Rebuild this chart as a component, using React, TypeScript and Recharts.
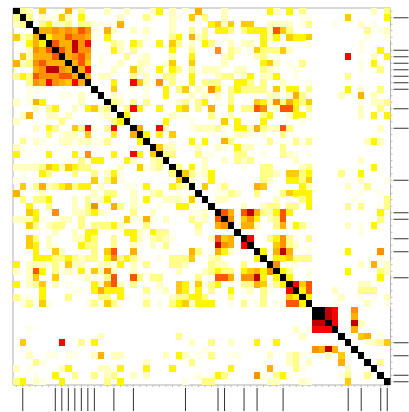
import { ScatterChart, Scatter, XAxis, YAxis, ReferenceArea } from "recharts"

// upper triangle of the symmetric matrix, one string per row, "col:level"
const rowValues = [
  "1:3 2:2 4:5 8:6 10:3 14:2 17:2 21:2 22:4 24:2 26:1 28:6 32:2 39:4 40:2 42:4 44:3 55:2 57:3",
  "2:3 4:2 5:1 6:1 7:5 8:2 10:4 16:2 20:3 21:1 24:2 25:1 27:5 29:3 32:2 44:1 45:1 51:5 57:4",
  "4:3 5:4 6:2 7:2 8:3 10:3 11:3 12:1 13:1 14:1 16:6 24:2 30:4 31:5 32:2 33:5 35:5 36:5 39:2 40:2 41:2 42:2 44:1 45:3 49:1 53:2 55:1",
  "4:6 5:6 6:7 7:6 8:7 9:6 10:8 11:7 12:1 14:6 15:2 18:2 20:2 24:2 27:3 29:3 31:4 32:4 33:3 35:3 36:4 37:4 38:4 39:2 40:8 41:5 42:3 54:3 56:1 57:2",
  "5:4 6:6 7:6 8:8 9:7 10:7 11:6 12:1 14:4 20:1 24:3 25:4 27:6 28:2 29:3 32:1 38:4 39:2 40:4 42:5 43:4 44:4 45:5 54:1 57:1",
  "6:8 7:6 8:6 9:10 10:7 11:9 15:3 16:2 18:4 19:3 22:4 24:5 25:3 27:2 29:4 30:3 33:2 35:2 36:2 38:4 39:1 45:1 53:1",
  "7:8 8:6 9:10 10:7 11:7 15:4 16:2 18:3 24:4 27:3 31:7 33:3 34:2 36:1 37:5 38:3 39:3 40:3 41:5 42:2 53:1 56:4",
  "8:6 9:7 10:8 11:6 13:1 17:3 19:1 20:2 24:2 27:4 32:2 33:3 37:2 38:3 39:1 40:1 51:9 55:2 57:4",
  "9:6 10:8 11:5 13:1 16:2 19:2 20:2 23:1 24:5 27:5 32:2 38:4 39:5 40:2 42:1 44:3 53:1 55:4",
  "10:6 11:9 15:2 18:5 19:2 20:1 22:4 24:4 25:3 27:3 29:2 30:2 31:2 34:2 35:2 38:3 39:2 40:1 43:1 53:1 56:3",
  "11:6 13:2 14:2 18:3 20:2 23:3 24:3 27:4 31:2 32:3 33:3 35:2 36:4 38:2 39:2 40:4 41:1 43:1 51:3",
  "15:4 18:9 19:5 20:2 22:7 24:3 27:4 29:3 30:3 31:3 34:4 35:4 36:3 38:3 41:2 45:1",
  "15:5 18:1 20:1 23:4 25:3 26:5 28:2 29:1 30:7 31:4 33:3 34:4 35:3 36:3 37:3 38:3 40:5 41:1 42:4 43:4 45:3 51:4 53:2 56:3",
  "15:2 16:1 20:1 23:4 27:2 29:2 31:2 33:3 39:2 40:2 42:2 43:6 44:3 45:1 50:2 53:6 55:2",
  "15:3 16:2 18:3 20:3 25:2 26:3 28:3 29:4 31:1 33:3 37:5 38:4 39:2 40:7 41:3 42:6 43:4 44:3 45:5 55:2 56:2 57:3",
  "17:3 18:9 19:4 22:4 25:4 26:5 28:3 30:6 33:4 35:3 36:3 37:8 38:7 39:1 40:2 41:8 42:8 43:4 45:3 53:2 56:3",
  "17:4 24:2 25:1 26:1 30:3 33:2 38:3 39:4 42:2 43:4 44:4 45:1 53:2 55:4 57:4",
  "23:4 27:1 32:5 34:4 38:4 44:1",
  "19:6 22:9 23:2 27:1 28:2 29:2 30:2 31:3 32:1 34:4 35:4 36:2 37:6 38:3 39:2 40:2 41:8 42:3 56:2",
  "20:4 22:4 24:5 30:1 32:1 34:2 35:2 36:1 38:1 41:3",
  "24:1 27:4 29:4 32:6 33:3 39:3 43:3 44:1 45:3 54:2 55:4 56:2",
  "22:5 23:2 24:2 28:2 31:2 32:1 34:4 35:2 36:2 41:3",
  "23:3 24:3 28:3 30:1 34:3 35:3 38:1 41:3 42:2 43:1 45:1",
  "29:2 32:2 34:3 35:2 36:3 43:2 53:2",
  "25:3 27:4 29:2 35:1 38:3 39:3 44:2 45:3 55:4",
  "26:5 27:3 28:1 29:2 30:4 38:3 39:3 40:2 42:5 43:5 44:3 45:4 50:3 53:4",
  "27:2 29:1 30:4 38:3 39:2 42:4 43:4 44:3 45:5 53:2 57:1",
  "29:5 31:1 32:3 37:6 38:5 44:4 45:2 51:2 54:3",
  "31:1 32:1 33:3 34:2 37:3 41:3 42:5 43:4 44:4 45:4 53:1 56:1",
  "31:2 32:2 40:2 42:1 44:3 45:4 52:1 57:3",
  "35:2 38:2 39:3 40:3 42:3 43:3 45:4 51:3 53:3 56:1 57:3",
  "32:8 33:6 35:8 36:10 37:6 38:3 39:2 40:4 41:8 42:4 56:4",
  "33:7 35:5 36:7 37:4 39:2 40:3 41:8 56:3",
  "35:6 36:6 37:2 40:3 41:6 42:1 43:4 44:3 45:1 51:2 53:1 55:4",
  "53:1",
  "36:9 39:3 40:4 41:7 42:3 43:1 45:3",
  "40:5 41:7 42:3 43:2",
  "38:4 40:6 41:10 42:6 45:1 51:4 56:7",
  "40:4 41:4 42:5 43:3 44:3 45:3 56:1",
  "40:7 42:1 43:1 53:2 55:6 57:2",
  "41:4 42:3 45:1 51:4 56:3 57:2",
  "42:4 45:1 56:4",
  "43:9 44:5 45:8 53:2 54:2 56:1",
  "44:4 45:8 49:2 53:3 54:3 55:3",
  "45:4 50:2 53:1 55:1 57:2",
  "49:1 54:2 57:1",
  "47:11 48:10 49:9 52:7",
  "48:10 49:9 52:6",
  "49:9 52:10 53:2",
  "52:6",
  "53:5 54:6 56:1",
  "54:1 55:2 56:3 57:5",
  "",
  "",
  "56:3",
  "",
  "",
  "",
]

const levelColors = [
  "#FFFFFF", "#FFFFE6", "#FFFFC0", "#FFFF88", "#FFF500", "#FFCC00",
  "#FFB000", "#FF9000", "#FF5500", "#FF0000", "#C00000", "#000000",
]

const majorTicks = [1, 6, 7, 8, 9, 10, 11, 12, 15, 18, 26, 31, 32, 35, 37, 41, 51, 53, 56, 57]

const cellCount = rowValues.length
const diagonalLevel = 11
const allTicks = rowValues.map((_, i) => i)

const cells: { col: number; row: number; level: number }[] = []
rowValues.forEach((line, row) => {
  cells.push({ col: row, row, level: diagonalLevel })
  line.split(" ").filter(Boolean).forEach((item) => {
    const [col, level] = item.split(":").map(Number)
    cells.push({ col, row, level })
    cells.push({ col: row, row: col, level })
  })
})

const chartWidth = 409
const chartHeight = 412
const margin = { top: 8, right: 0, bottom: 0, left: 13 }
const axisHeight = 27
const axisWidth = 18.5
const cellSize = (chartWidth - margin.left - axisWidth) / cellCount

const CellShape = (props: any) => {
  const { cx, cy, payload } = props
  return (
    <rect
      x={cx - cellSize / 2}
      y={cy - cellSize / 2}
      width={cellSize}
      height={cellSize}
      fill={levelColors[payload.level]}
      shapeRendering="crispEdges"
    />
  )
}

const BottomTick = (props: any) => {
  const { x, y, payload } = props
  const major = majorTicks.includes(payload.value)
  return (
    <g>
      <line x1={x} x2={x} y1={y} y2={y + 2} stroke="#bbb" />
      {major && <line x1={x} x2={x} y1={y + 3} y2={y + 26} stroke="#333" />}
    </g>
  )
}

const RightTick = (props: any) => {
  const { x, y, payload } = props
  const major = majorTicks.includes(payload.value)
  return (
    <g>
      <line x1={x} x2={x + 2} y1={y} y2={y} stroke="#bbb" />
      {major && <line x1={x + 3} x2={x + 18} y1={y} y2={y} stroke="#333" />}
    </g>
  )
}

export default function App() {
  return (
    <div style={{ position: "absolute", left: 0, top: 0, width: chartWidth, height: chartHeight, filter: "blur(0.35px)" }}>
      <ScatterChart width={chartWidth} height={chartHeight} margin={margin}>
        <XAxis
          type="number"
          dataKey="col"
          domain={[-0.5, cellCount - 0.5]}
          ticks={allTicks}
          interval={0}
          height={axisHeight}
          tick={<BottomTick />}
          tickLine={false}
          tickSize={0}
          tickMargin={0}
          axisLine={false}
          allowDataOverflow
        />
        <YAxis
          type="number"
          dataKey="row"
          orientation="right"
          reversed
          domain={[-0.5, cellCount - 0.5]}
          ticks={allTicks}
          interval={0}
          width={axisWidth}
          tick={<RightTick />}
          tickLine={false}
          tickSize={0}
          tickMargin={0}
          axisLine={false}
          allowDataOverflow
        />
        <Scatter data={cells} shape={<CellShape />} isAnimationActive={false} />
        <ReferenceArea
          x1={-0.5}
          x2={cellCount - 0.5}
          y1={-0.5}
          y2={cellCount - 0.5}
          fill="none"
          stroke="#b0b0b0"
          strokeWidth={1}
        />
      </ScatterChart>
    </div>
  )
}
